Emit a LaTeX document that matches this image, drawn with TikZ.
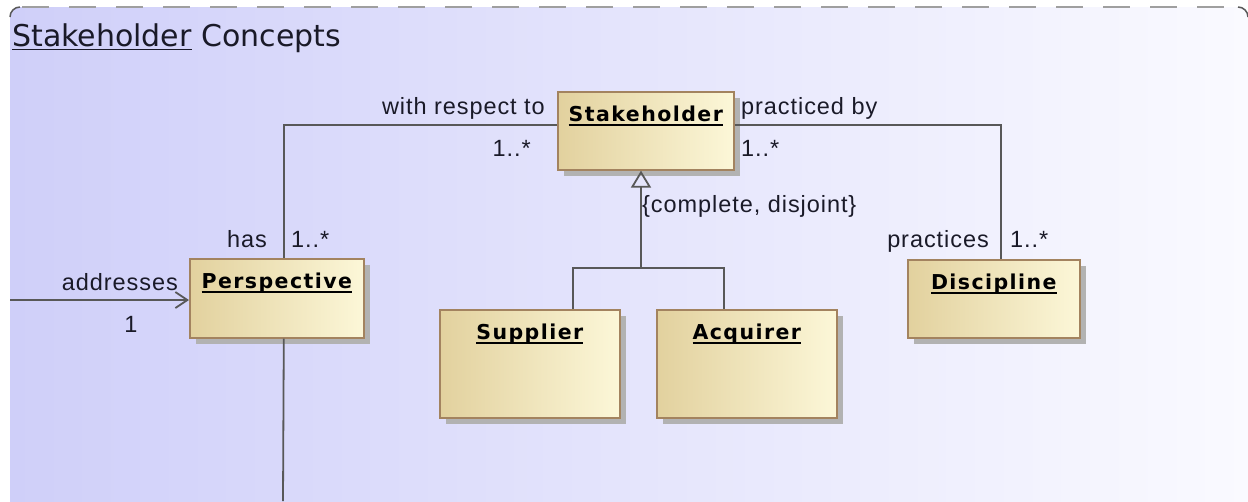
\documentclass[tikz,border=0pt]{standalone}
\usepackage{fontspec}
\setmainfont{Liberation Sans}[LetterSpace=4]
\newfontfamily\namefont{DejaVu Sans}[LetterSpace=7]
\newfontfamily\titlefont{DejaVu Sans}
\usepackage{xcolor}
\usepackage{tikz}
\usetikzlibrary{positioning,shadows,arrows.meta}

\definecolor{bgl}{HTML}{CFCFF9}
\definecolor{bgr}{HTML}{FAFAFF}
\definecolor{boxl}{HTML}{E2D19E}
\definecolor{boxr}{HTML}{FCF7D8}
\definecolor{boxline}{HTML}{A3835F}
\definecolor{linegray}{HTML}{585858}
\definecolor{txt}{HTML}{1A1A28}

\newcommand{\ulname}[2][2pt]{\setbox0\hbox{#2}\rlap{\rule[-4pt]{\wd0}{#1}}\box0\relax}

\begin{document}
\begin{tikzpicture}[x=1pt, y=-1pt,
  cls/.style={draw=boxline, line width=1.6pt, left color=boxl, right color=boxr,
    drop shadow={shadow xshift=6pt, shadow yshift=-6pt, fill=black!30, opacity=1},
    anchor=north west, inner sep=0pt, text height=30pt, text=black,
    font=\namefont\bfseries\fontsize{20.5}{24}\selectfont},
  lbl/.style={font=\fontsize{23.5}{28}\selectfont, text=txt, inner sep=0pt},
  link/.style={draw=linegray, line width=1.8pt},
  gen/.style={link, -{Triangle[open, width=20pt, length=17pt]}},
  nav/.style={link, -{Straight Barb[length=12pt, width=16pt]}}]
\useasboundingbox (0,0) rectangle (1248,501);
% frame
\shade[left color=bgl, right color=bgr, rounded corners=10pt] (10,520) -- (10,7) -- (1248,7) -- (1248,520) -- cycle;
\draw[gray!75, line width=1.5pt, dash pattern=on 27pt off 20pt] (22,7) -- (1236,7);
\draw[black!65, line width=1.5pt, rounded corners=10pt] (10,17) -- (10,7) -- (20,7);
\draw[black!65, line width=1.5pt, rounded corners=10pt] (1238,7) -- (1248,7) -- (1248,17);
\node[anchor=base west, inner sep=0pt, text=txt, font=\titlefont\fontsize{30}{36}\selectfont] (title) at (12,46) {\ulname[1.5pt]{Stakeholder} Concepts};

% classes
\node[cls, minimum width=176pt, text depth=48pt] (stake) at (557,91) {\ulname{Stakeholder}};
\node[cls, minimum width=174pt, text depth=49pt] (persp) at (189,258) {\ulname{Perspective}};
\node[cls, minimum width=180pt, text depth=78pt] (supp) at (439,309) {\ulname{Supplier}};
\node[cls, minimum width=180pt, text depth=78pt] (acq) at (656,309) {\ulname{Acquirer}};
\node[cls, minimum width=172pt, text depth=48pt] (disc) at (907,259) {\ulname{Discipline}};

% connectors
\coordinate (src) at (10,300);
\coordinate (bottom) at (283,501);
\coordinate (fork) at (641,268);
\coordinate (forkl) at (573,268);
\coordinate (forkr) at (724,268);
\draw[link] ([yshift=6pt]stake.west) -| ([xshift=7pt]persp.north);
\draw[link] ([yshift=6pt]stake.east) -| ([xshift=7pt]disc.north);
\draw[link] ([xshift=7pt]persp.south) -- (bottom);
\draw[nav] (src) -- (persp.west |- src);
\draw[gen] (fork) -- (fork |- stake.south);
\draw[link] (supp.north -| forkl) |- (forkr) -- (acq.north -| forkr);

% labels
\node[lbl, anchor=base east] (wrtl) at (545,114) {with respect to};
\node[lbl, anchor=base east] (wrtm) at (531,156) {1..*};
\node[lbl, anchor=base west] (pbyl) at (741,114) {practiced by};
\node[lbl, anchor=base west] (pbym) at (741,156) {1..*};
\node[lbl, anchor=base west] (cdj) at (642,212) {\{complete, disjoint\}};
\node[lbl, anchor=base east] (hasl) at (267,247) {has};
\node[lbl, anchor=base west] (hasm) at (291,247) {1..*};
\node[lbl, anchor=base east] (addl) at (178,290) {addresses};
\node[lbl, anchor=base] (addm) at (131,332) {1};
\node[lbl, anchor=base east] (prl) at (989,247) {practices};
\node[lbl, anchor=base west] (prm) at (1010,247) {1..*};
\end{tikzpicture}
\end{document}
